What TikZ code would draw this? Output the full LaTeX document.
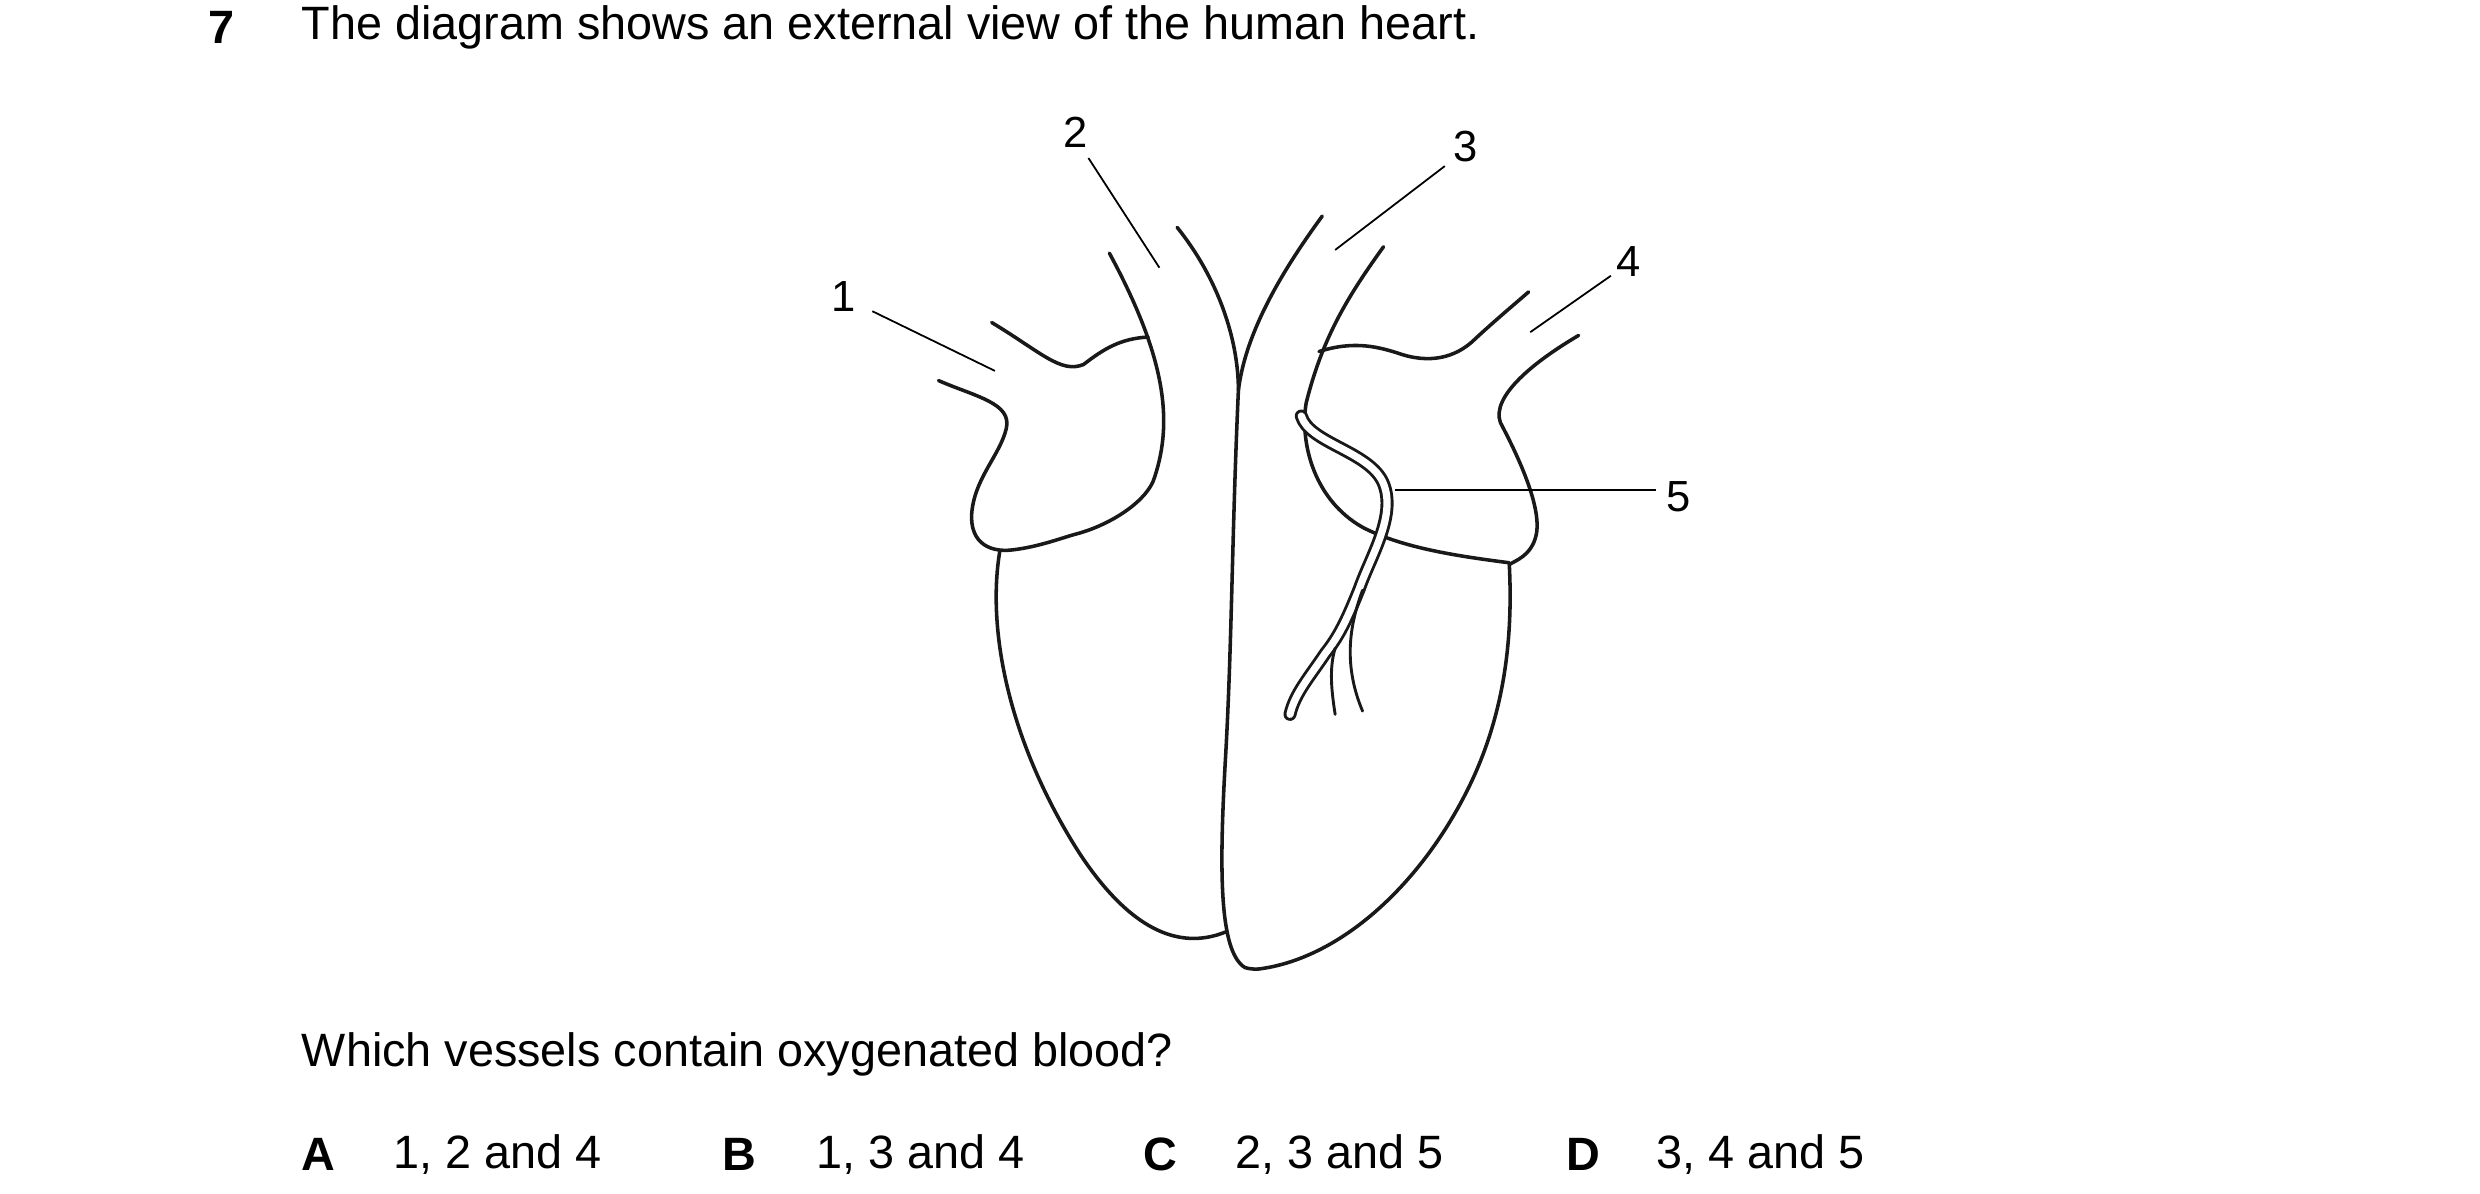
\documentclass[tikz,border=0pt]{standalone}
\usepackage{fontspec}
\setmainfont{Liberation Sans}
\begin{document}
\begin{tikzpicture}[x=1pt,y=-1pt,
  txt/.style={font=\fontsize{29}{33}\selectfont,inner sep=0pt},
  lab/.style={font=\fontsize{27}{30}\selectfont,inner sep=1pt},
  ht/.style={line width=2.2pt,line cap=round,line join=round,black!90},
  ll/.style={line width=1.1pt}]
\useasboundingbox (0,0) rectangle (1538,740);
% texts
\node[txt,anchor=west,font=\fontsize{29}{33}\selectfont\bfseries] (q7) at (129,17) {7};
\node[txt,anchor=west] (title) at (187,17) {The diagram shows an external view of the human heart.};
\node[txt,anchor=west] (ques) at (187,654) {Which vessels contain oxygenated blood?};
\node[txt,anchor=west,font=\fontsize{29}{33}\selectfont\bfseries] (oA) at (187,716) {A};
\node[txt,anchor=west] (tA) at (244,716) {1, 2 and 4};
\node[txt,anchor=west,font=\fontsize{29}{33}\selectfont\bfseries] (oB) at (448,716) {B};
\node[txt,anchor=west] (tB) at (506,716) {1, 3 and 4};
\node[txt,anchor=west,font=\fontsize{29}{33}\selectfont\bfseries] (oC) at (709,716) {C};
\node[txt,anchor=west] (tC) at (766,716) {2, 3 and 5};
\node[txt,anchor=west,font=\fontsize{29}{33}\selectfont\bfseries] (oD) at (971,716) {D};
\node[txt,anchor=west] (tD) at (1027,716) {3, 4 and 5};
% heart
\draw[ht] (615,200) .. controls (645,218) and (658,232) .. (672,226) .. controls (685,216) and (695,210) .. (712,209);
\draw[ht] (582,236) .. controls (605,246) and (628,250) .. (624,266) .. controls (620,282) and (606,295) .. (603,315) .. controls (600,335) and (612,343) .. (628,341) .. controls (645,339) and (660,333) .. (668,331) .. controls (690,325) and (712,310) .. (716,296) .. controls (728,260) and (722,220) .. (688,157);
\draw[ht] (730,141) .. controls (755,172) and (768,210) .. (768,242) .. controls (764,330) and (764,400) .. (760,470) .. controls (756,540) and (756,590) .. (772,600) .. controls (775,601) and (778,601) .. (780,601);
\draw[ht] (620,342) .. controls (612,390) and (625,460) .. (670,530) .. controls (700,575) and (730,590) .. (760,578);
\draw[ht] (780,601) .. controls (830,595) and (880,550) .. (910,490) .. controls (935,440) and (938,390) .. (936,350);
\draw[ht] (820,134) .. controls (790,175) and (772,210) .. (768,242);
\draw[ht] (858,153) .. controls (835,185) and (820,210) .. (810,250) .. controls (806,275) and (815,310) .. (845,327) .. controls (870,340) and (905,345) .. (936,349);
\draw[ht] (818,218) .. controls (840,211) and (855,215) .. (870,220) .. controls (890,226) and (905,220) .. (915,210) .. controls (928,198) and (940,188) .. (948,181);
\draw[ht] (979,208) .. controls (945,228) and (922,250) .. (932,265) .. controls (945,290) and (955,315) .. (953,330) .. controls (951,342) and (944,346) .. (936,350);
% coronary artery
\draw[ht,line width=1.8pt,double=white,double distance=4.5pt] (807,258) .. controls (812,275) and (850,280) .. (858,300) .. controls (866,320) and (850,345) .. (843,365) .. controls (835,385) and (830,395) .. (822,405) .. controls (812,420) and (803,430) .. (800,443);
\draw[ht,line width=1.8pt] (828,402) .. controls (824,415) and (826,430) .. (828,443);
\draw[ht,line width=1.8pt] (845,366) .. controls (838,385) and (832,410) .. (845,441);
% labels
\node[lab] (n1) at (523,184) {1};
\node[lab] (n2) at (667,82) {2};
\node[lab] (n3) at (909,91) {3};
\node[lab] (n4) at (1010,162) {4};
\node[lab] (n5) at (1041,308) {5};
\coordinate (e1) at (617,230);
\coordinate (e2) at (719,166);
\coordinate (e3) at (828,155);
\coordinate (e4) at (949,206);
\coordinate (e5) at (865,304);
\draw[ll] (541,193) -- (e1);
\draw[ll] (675,98) -- (e2);
\draw[ll] (896,103) -- (e3);
\draw[ll] (999,171) -- (e4);
\draw[ll] (1027,304) -- (e5);
\end{tikzpicture}
\end{document}
